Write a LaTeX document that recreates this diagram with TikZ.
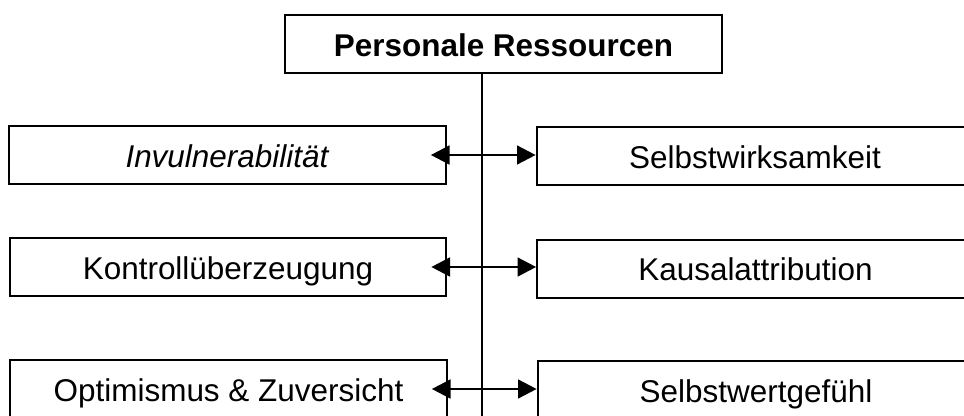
\documentclass[tikz,border=0pt]{standalone}
\usepackage{fontspec}
\setmainfont{Liberation Sans}
\usetikzlibrary{arrows.meta}
\begin{document}
\begin{tikzpicture}[x=0.75pt,y=-0.75pt,
  box/.style={draw, line width=1.5pt, minimum width=327.5pt, minimum height=43.5pt,
    inner sep=0pt, text height=18pt, text depth=0pt,
    font=\fontsize{23.6}{28}\selectfont},
  conn/.style={line width=2pt,
    {Triangle[length=14pt,width=14pt]}-{Triangle[length=14pt,width=14pt]},
    shorten <=-12pt},
  trunk/.style={line width=1.1pt}]
\useasboundingbox (0,0) rectangle (964,415);
\clip (0,0) rectangle (964,415);

% heading
\node[box] (top) at (503.5,44) {\textbf{Personale Ressourcen}};

% left column
\node[box] (L1) at (227.5,155) {\textit{Invulnerabilität}};
\node[box] (L2) at (228,267) {Kontrollüberzeugung};
\node[box] (L3) at (228.5,389) {Optimismus \& Zuversicht};

% right column
\node[box] (R1) at (755,156) {Selbstwirksamkeit};
\node[box] (R2) at (755.5,268.5) {Kausalattribution};
\node[box] (R3) at (756,390) {Selbstwertgefühl};

% central trunk
\coordinate (vb) at (482,425);
\draw[trunk] (top.south -| vb) -- (vb);

% double-headed links between the columns
\draw[conn] (L1.east) -- (L1.east -| R1.west);
\draw[conn] (L2.east) -- (L2.east -| R2.west);
\draw[conn] (L3.east) -- (L3.east -| R3.west);
\end{tikzpicture}
\end{document}
